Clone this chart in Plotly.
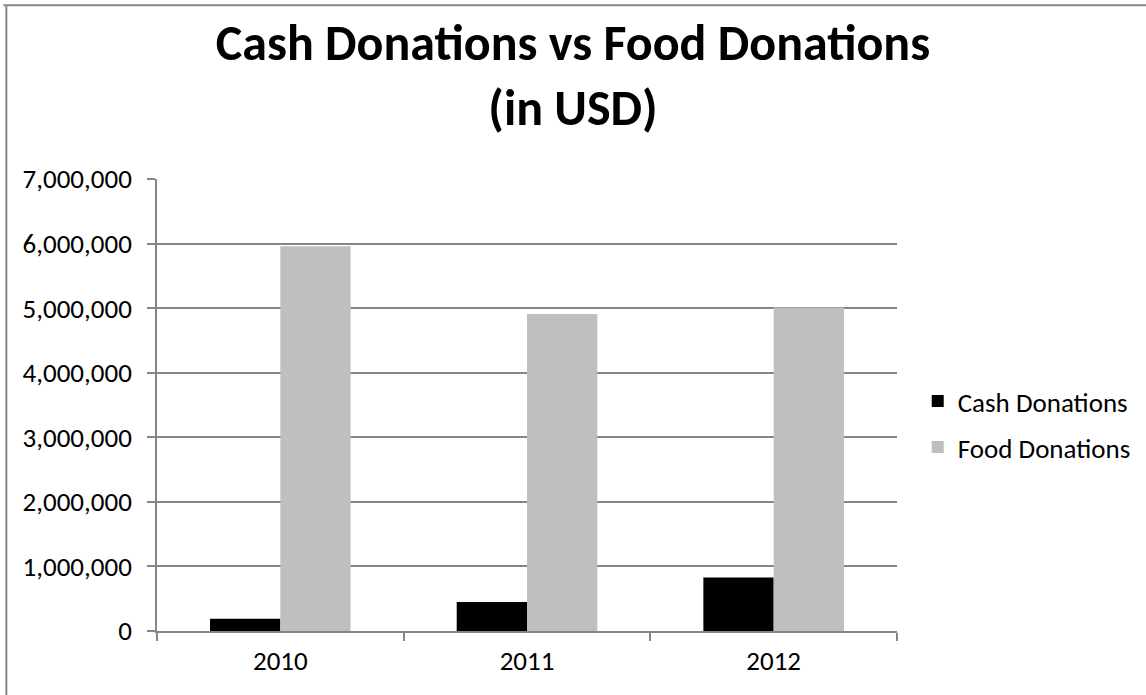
import plotly.graph_objects as go

# Donation totals by year (USD)
years = ["2010", "2011", "2012"]
cash_donations = [190000, 450000, 830000]
food_donations = [5960000, 4910000, 5010000]

y_ticks = [0, 1000000, 2000000, 3000000, 4000000, 5000000, 6000000, 7000000]
y_tick_labels = ["0", "1,000,000", "2,000,000", "3,000,000", "4,000,000",
                 "5,000,000", "6,000,000", "7,000,000"]

FONT = "Calibri, Carlito, Lato, sans-serif"
AXIS_GRAY = "#868686"
TEXT_SIZE = 27

fig = go.Figure()
fig.add_trace(go.Bar(
    x=years, y=cash_donations, name="Cash Donations",
    marker=dict(color="#000000", line=dict(width=0)),
    legendgroup="cash",
))
fig.add_trace(go.Bar(
    x=years, y=food_donations, name="Food Donations",
    marker=dict(color="#BFBFBF", line=dict(width=0)),
    legendgroup="food",
))

fig.update_layout(
    width=1146, height=695,
    margin=dict(l=157, r=249, t=179, b=64, autoexpand=False),
    paper_bgcolor="white", plot_bgcolor="white",
    barmode="group", bargap=0.43, bargroupgap=0,
    font=dict(family=FONT, size=TEXT_SIZE, color="#000000"),
    title=dict(
        text="<b>Cash Donations vs Food Donations<br>(in USD)</b>",
        x=0.5, xanchor="center", xref="container",
        y=1 - 60 / 695, yanchor="middle", yref="container",
        font=dict(family=FONT, size=50, color="#000000"),
    ),
    legend=dict(
        x=1.028, xanchor="left", y=0.457, yanchor="middle",
        font=dict(family=FONT, size=TEXT_SIZE, color="#000000"),
        tracegroupgap=8, itemwidth=30,
        bgcolor="rgba(0,0,0,0)",
    ),
    showlegend=True,
)

fig.update_xaxes(
    type="category", showgrid=False,
    showline=True, linecolor=AXIS_GRAY, linewidth=1.5,
    ticks="outside", ticklen=8, tickcolor=AXIS_GRAY, tickwidth=1.5,
    tickson="boundaries", ticklabelstandoff=5,
    tickfont=dict(family=FONT, size=TEXT_SIZE, color="#000000"),
)
fig.update_yaxes(
    range=[0, 7000000], tickvals=y_ticks, ticktext=y_tick_labels,
    showgrid=True, gridcolor=AXIS_GRAY, gridwidth=1.5,
    showline=True, linecolor=AXIS_GRAY, linewidth=1.5,
    ticks="outside", ticklen=8, tickcolor=AXIS_GRAY, tickwidth=1.5,
    ticklabelstandoff=10, zeroline=False,
    tickfont=dict(family=FONT, size=TEXT_SIZE, color="#000000"),
)

# Chart-area frame along the top and left edges
fig.add_shape(type="line", xref="paper", yref="paper",
              x0=-0.2076, x1=1.34, y0=1.3845, y1=1.3845,
              line=dict(color=AXIS_GRAY, width=2))
fig.add_shape(type="line", xref="paper", yref="paper",
              x0=-0.2036, x1=-0.2036, y0=1.3845, y1=-0.2,
              line=dict(color=AXIS_GRAY, width=2))

fig.write_html("out.html")
